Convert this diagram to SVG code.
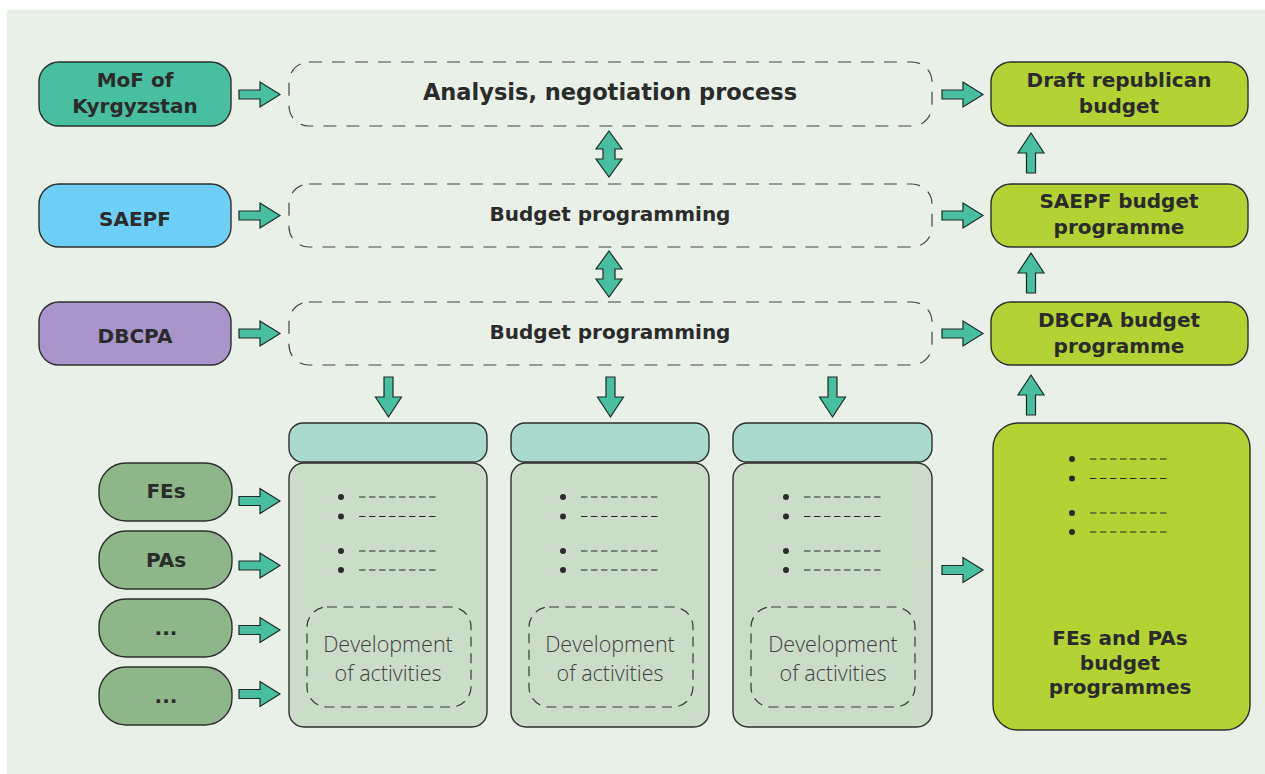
<svg xmlns="http://www.w3.org/2000/svg" xmlns:xlink="http://www.w3.org/1999/xlink" width="1265" height="774" viewBox="0 0 1265 774">
<style>
.box{stroke:#2e2e2e;stroke-width:1.4}
.dash{fill:none;stroke:#444;stroke-width:1.2;stroke-dasharray:13 10}
.inner{fill:none;stroke:#3a3a3a;stroke-width:1.2;stroke-dasharray:10 6.5}
.arrow{fill:#48bfa1;stroke:#1f2a26;stroke-width:1.2;stroke-linejoin:miter}
.t{font-family:"DejaVu Sans","Liberation Sans",sans-serif;font-weight:bold;font-size:20px;fill:#2b2b2b;text-anchor:middle}
.big{font-size:22.5px}
.light{font-family:"Open Sans","Liberation Sans",sans-serif;font-weight:300;font-size:21.5px;fill:#3f3f3f;text-anchor:middle}
.dl{stroke:#2b2b2b;stroke-width:1.2;stroke-dasharray:6.5 3.5}
.dot{fill:#2b2b2b}
</style>
<defs>
<path id="ar" class="arrow" d="M0,-4.5 H21 V-12.5 L41,0 L21,12.5 V4.5 H0 Z"/>
<path id="au" class="arrow" d="M-4.5,40 V20 H-13 L0,0 L13,20 H4.5 V40 Z"/>
<path id="ad" class="arrow" d="M-4.5,0 V20 H-13 L0,40 L13,20 H4.5 V0 Z"/>
<path id="abi" class="arrow" d="M0,0 L13,18 H6 V28 H13 L0,46 L-13,28 H-6 V18 H-13 Z"/>
<g id="bul">
<circle class="dot" cx="0" cy="0" r="3"/>
<circle class="dot" cx="0" cy="19.5" r="3"/>
<circle class="dot" cx="0" cy="54" r="3"/>
<circle class="dot" cx="0" cy="73" r="3"/>
<line class="dl" x1="18" y1="0" x2="96" y2="0"/>
<line class="dl" x1="18" y1="19.5" x2="96" y2="19.5"/>
<line class="dl" x1="18" y1="54" x2="96" y2="54"/>
<line class="dl" x1="18" y1="73" x2="96" y2="73"/>
</g>
</defs>
<rect x="0" y="0" width="1265" height="774" fill="#ffffff"/>
<rect x="7" y="10" width="1258" height="764" fill="#e8f0e8"/>

<g id="mof"><rect class="box" x="39" y="62" width="192" height="64" rx="20" fill="#48bfa1"/>
<text class="t" x="135" y="87">MoF of</text><text class="t" x="135" y="113">Kyrgyzstan</text></g>
<g id="saepf"><rect class="box" x="39" y="184" width="192" height="63" rx="20" fill="#6dcff6"/>
<text class="t" x="135" y="226">SAEPF</text></g>
<g id="dbcpa"><rect class="box" x="39" y="302" width="192" height="63" rx="20" fill="#a995c9"/>
<text class="t" x="135" y="343">DBCPA</text></g>

<g id="analysis"><rect class="dash" x="289" y="62" width="643" height="64" rx="20"/>
<text class="t big" x="610" y="100">Analysis, negotiation process</text></g>
<g id="bp1"><rect class="dash" x="289" y="184" width="643" height="63" rx="20"/>
<text class="t" x="610" y="221">Budget programming</text></g>
<g id="bp2"><rect class="dash" x="289" y="302" width="643" height="63" rx="20"/>
<text class="t" x="610" y="339">Budget programming</text></g>

<g id="draft"><rect class="box" x="991" y="62" width="257" height="64" rx="20" fill="#b3d335"/>
<text class="t" x="1119" y="87">Draft republican</text><text class="t" x="1119" y="113">budget</text></g>
<g id="saepf-bp"><rect class="box" x="991" y="184" width="257" height="63" rx="20" fill="#b3d335"/>
<text class="t" x="1119" y="208">SAEPF budget</text><text class="t" x="1119" y="234">programme</text></g>
<g id="dbcpa-bp"><rect class="box" x="991" y="302" width="257" height="63" rx="20" fill="#b3d335"/>
<text class="t" x="1119" y="327">DBCPA budget</text><text class="t" x="1119" y="353">programme</text></g>
<g id="fepa-bp"><rect class="box" x="993" y="423" width="257" height="307" rx="25" fill="#b3d335"/>
<use xlink:href="#bul" x="1072" y="459"/>
<text class="t" x="1120" y="645">FEs and PAs</text><text class="t" x="1120" y="670">budget</text><text class="t" x="1120" y="694">programmes</text></g>

<g id="col1"><rect class="box" x="289" y="463" width="198" height="264" rx="15" fill="#cbdcc8"/>
<rect class="box" x="289" y="423" width="198" height="39" rx="14" fill="#a9dacd"/>
<use xlink:href="#bul" x="341" y="497"/>
<rect class="inner" x="307" y="607" width="164" height="100" rx="20"/>
<text class="light" x="388" y="652">Development</text><text class="light" x="388" y="681">of activities</text></g>
<g id="col2"><rect class="box" x="511" y="463" width="198" height="264" rx="15" fill="#cbdcc8"/>
<rect class="box" x="511" y="423" width="198" height="39" rx="14" fill="#a9dacd"/>
<use xlink:href="#bul" x="563" y="497"/>
<rect class="inner" x="529" y="607" width="164" height="100" rx="20"/>
<text class="light" x="610" y="652">Development</text><text class="light" x="610" y="681">of activities</text></g>
<g id="col3"><rect class="box" x="733" y="463" width="199" height="264" rx="15" fill="#cbdcc8"/>
<rect class="box" x="733" y="423" width="199" height="39" rx="14" fill="#a9dacd"/>
<use xlink:href="#bul" x="786" y="497"/>
<rect class="inner" x="751" y="607" width="164" height="100" rx="20"/>
<text class="light" x="833" y="652">Development</text><text class="light" x="833" y="681">of activities</text></g>

<g id="fes"><rect class="box" x="99" y="463" width="133" height="58" rx="27" fill="#8fb58a"/><text class="t" x="166" y="498">FEs</text></g>
<g id="pas"><rect class="box" x="99" y="531" width="133" height="58" rx="27" fill="#8fb58a"/><text class="t" x="166" y="567">PAs</text></g>
<g id="other1"><rect class="box" x="99" y="599" width="133" height="58" rx="27" fill="#8fb58a"/><text class="t" x="166" y="635">...</text></g>
<g id="other2"><rect class="box" x="99" y="667" width="133" height="58" rx="27" fill="#8fb58a"/><text class="t" x="166" y="703">...</text></g>

<g id="connectors">
<use xlink:href="#ar" x="239" y="94.5"/>
<use xlink:href="#ar" x="239" y="215.5"/>
<use xlink:href="#ar" x="239" y="333.5"/>
<use xlink:href="#ar" x="942" y="94.5"/>
<use xlink:href="#ar" x="942" y="215.5"/>
<use xlink:href="#ar" x="942" y="333.5"/>
<use xlink:href="#abi" x="609" y="131"/>
<use xlink:href="#abi" x="609" y="251"/>
<use xlink:href="#ad" x="388.5" y="377"/>
<use xlink:href="#ad" x="610.5" y="377"/>
<use xlink:href="#ad" x="832.5" y="377"/>
<use xlink:href="#au" x="1031" y="133"/>
<use xlink:href="#au" x="1031" y="253"/>
<use xlink:href="#au" x="1031" y="375"/>
<use xlink:href="#ar" x="239" y="501"/>
<use xlink:href="#ar" x="239" y="565.5"/>
<use xlink:href="#ar" x="239" y="630"/>
<use xlink:href="#ar" x="239" y="694"/>
<use xlink:href="#ar" x="942" y="570"/>
</g>
</svg>
